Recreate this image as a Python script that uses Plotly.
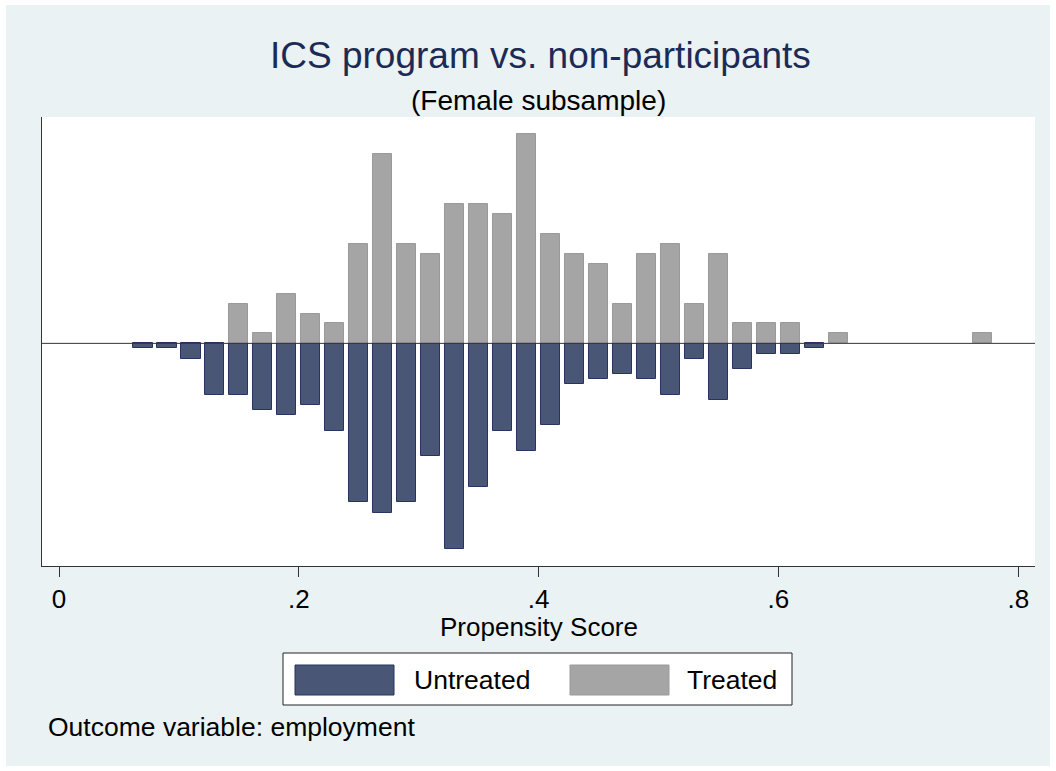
import plotly.graph_objects as go

# ---- data ----
ps_bin = [0.07, 0.09, 0.11, 0.13, 0.15, 0.17, 0.19, 0.21, 0.23, 0.25, 0.27, 0.29,
          0.31, 0.33, 0.35, 0.37, 0.39, 0.41, 0.43, 0.45, 0.47, 0.49, 0.51, 0.53,
          0.55, 0.57, 0.59, 0.61, 0.63, 0.65, 0.67, 0.69, 0.71, 0.73, 0.75, 0.77]
untreated_n = [1, 1, 3, 10, 10, 13, 14, 12, 17, 31, 33, 31,
               22, 40, 28, 17, 21, 16, 8, 7, 6, 7, 10, 3,
               11, 5, 2, 2, 1, 0, 0, 0, 0, 0, 0, 0]
treated_n = [0, 0, 0, 0, 4, 1, 5, 3, 2, 10, 19, 10,
             9, 14, 14, 13, 21, 11, 9, 8, 4, 9, 10, 4,
             9, 2, 2, 2, 0, 1, 0, 0, 0, 0, 0, 1]
tick_vals = [0, 0.2, 0.4, 0.6, 0.8]
tick_text = ["0", ".2", ".4", ".6", ".8"]

# density (fraction of each group) as in psgraph; empty bins drawn as nothing
u_tot = sum(untreated_n)
t_tot = sum(treated_n)
untreated_y = [(-n / u_tot) if n else None for n in untreated_n]
treated_y = [(n / t_tot) if n else None for n in treated_n]

W, H = 1056, 771
ML, MR, MT, MB = 42, 21, 117, 205
PW, PH = W - ML - MR, H - MT - MB


def px(x):
    return (x - ML) / PW


def py(y):
    return (MT + PH - y) / PH


FONT = "Liberation Sans, Arial, Helvetica, sans-serif"
BG = "#EAF2F3"
NAVY = "#4A5676"
NAVY_LINE = "#27345E"
GREY = "#A5A5A5"
GREY_LINE = "#9A9A9A"

fig = go.Figure()
fig.add_trace(go.Bar(x=ps_bin, y=untreated_y, width=0.016, name="Untreated",
                     marker=dict(color=NAVY, line=dict(color=NAVY_LINE, width=1))))
fig.add_trace(go.Bar(x=ps_bin, y=treated_y, width=0.016, name="Treated",
                     marker=dict(color=GREY, line=dict(color=GREY_LINE, width=1))))

shapes = []
# white outer frame strips
for x0, y0, x1, y1 in [(0, 0, W, 5), (0, 766, W, H), (0, 0, 6, H), (1050, 0, W, H)]:
    shapes.append(dict(type="rect", xref="paper", yref="paper",
                       x0=px(x0), x1=px(x1), y0=py(y1), y1=py(y0),
                       fillcolor="white", line=dict(width=0), layer="above"))
# zero line
shapes.append(dict(type="line", xref="paper", yref="y", x0=0, x1=1, y0=0, y1=0,
                   line=dict(color="#333333", width=1), layer="above"))
# legend box and swatches
shapes.append(dict(type="rect", xref="paper", yref="paper",
                   x0=px(283), x1=px(792), y0=py(705), y1=py(653),
                   fillcolor="white", line=dict(color="#222222", width=1)))
shapes.append(dict(type="rect", xref="paper", yref="paper",
                   x0=px(295), x1=px(394), y0=py(695), y1=py(665),
                   fillcolor=NAVY, line=dict(color=NAVY_LINE, width=1)))
shapes.append(dict(type="rect", xref="paper", yref="paper",
                   x0=px(570), x1=px(669), y0=py(695), y1=py(665),
                   fillcolor=GREY, line=dict(color=GREY_LINE, width=1)))

annotations = [
    dict(text="ICS program vs. non-participants", x=px(540), y=py(55),
         font=dict(size=37, color="#1C2B55", family=FONT)),
    dict(text="(Female subsample)", x=px(538), y=py(100),
         font=dict(size=28, color="black", family=FONT)),
    dict(text="Propensity Score", x=px(539), y=py(627),
         font=dict(size=26, color="black", family=FONT)),
    dict(text="Untreated", x=px(412), y=py(680), xanchor="left",
         font=dict(size=26.5, color="black", family=FONT)),
    dict(text="Treated", x=px(685), y=py(680), xanchor="left",
         font=dict(size=26.5, color="black", family=FONT)),
    dict(text="Outcome variable: employment", x=px(46), y=py(727), xanchor="left",
         font=dict(size=26.5, color="black", family=FONT)),
]
for a in annotations:
    a.setdefault("xanchor", "center")
    a.update(xref="paper", yref="paper", yanchor="middle", showarrow=False)

fig.update_layout(
    width=W, height=H,
    margin=dict(l=ML, r=MR, t=MT, b=MB, pad=0),
    paper_bgcolor=BG, plot_bgcolor="white",
    barmode="overlay", bargap=0, showlegend=False,
    font=dict(family=FONT, size=26, color="black"),
    shapes=shapes, annotations=annotations,
    xaxis=dict(range=[-0.01418, 0.81394], tickvals=tick_vals, ticktext=tick_text,
               ticks="outside", ticklen=10, tickwidth=1, tickcolor="#333333",
               showline=True, linecolor="#333333", linewidth=1,
               showgrid=False, zeroline=False,
               tickfont=dict(size=26, color="black", family=FONT)),
    yaxis=dict(range=[-0.1136, 0.1155], showticklabels=False, ticks="",
               showline=True, linecolor="#333333", linewidth=1,
               showgrid=False, zeroline=False),
)

fig.write_html("out.html", include_plotlyjs=True,
               config={"displayModeBar": False},
               post_script="document.body.style.margin='0';document.body.style.overflow='hidden';")
